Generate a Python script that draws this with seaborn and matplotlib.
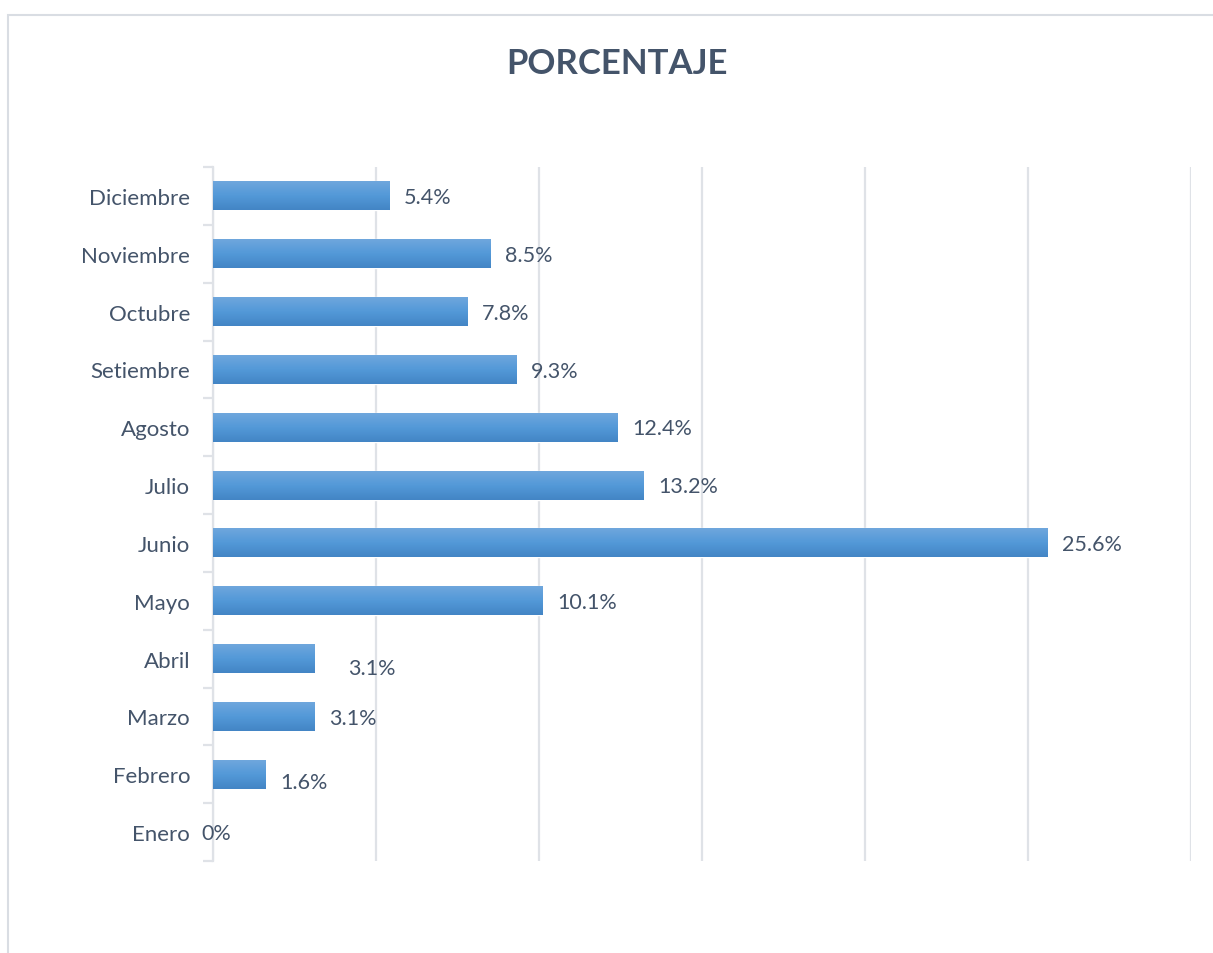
import numpy as np
import pandas as pd
import matplotlib
matplotlib.use("Agg")
import matplotlib.pyplot as plt
import seaborn as sns
from matplotlib.colors import LinearSegmentedColormap
from matplotlib.patches import Rectangle

months = ["Enero", "Febrero", "Marzo", "Abril", "Mayo", "Junio", "Julio",
          "Agosto", "Setiembre", "Octubre", "Noviembre", "Diciembre"]
values = [0, 1.6, 3.1, 3.1, 10.1, 25.6, 13.2, 12.4, 9.3, 7.8, 8.5, 5.4]
labels = ["0%", "1.6%", "3.1%", "3.1%", "10.1%", "25.6%", "13.2%",
          "12.4%", "9.3%", "7.8%", "8.5%", "5.4%"]
title = "PORCENTAJE"

df = pd.DataFrame({"mes": months, "pct": values, "lab": labels})
order = months[::-1]

sns.set_theme(style="white")
plt.rcParams["font.family"] = ["Lato", "DejaVu Sans"]

TEXT = "#44546a"
GRID = "#dfe2e7"

fig = plt.figure(figsize=(12.13, 9.54), dpi=100)
ax = fig.add_axes([213/1213, 1 - 862/954, (1191-213)/1213, (862-168)/954])

sns.barplot(data=df, y="mes", x="pct", order=order, orient="h",
            color="#5b9bd5", width=0.5, ax=ax, saturation=1)

ax.set_xlim(0, 30)
ax.set_ylim(len(order) - 0.5, -0.5)
xl, yl = ax.get_xlim(), ax.get_ylim()

# gradient fill on bars
cmap = LinearSegmentedColormap.from_list("g", ["#6fa7dd", "#5399d8", "#4385c5"])
grad = np.linspace(0, 1, 64).reshape(-1, 1)
for p in ax.patches:
    x0, y0 = p.get_x(), p.get_y()
    w, h = p.get_width(), p.get_height()
    if w <= 0:
        continue
    ax.imshow(grad, cmap=cmap, aspect="auto", extent=(x0, x0 + w, y0 + h, y0),
              origin="upper", zorder=3, interpolation="bicubic")
ax.set_xlim(*xl)
ax.set_ylim(*yl)

# value labels
label_dx = {"Enero": -0.82, "Abril": 0.6}
label_dy = {"Febrero": 0.12, "Abril": 0.14}
for m, v, lab in zip(months, values, labels):
    yi = order.index(m)
    ax.text(v + 0.45 + label_dx.get(m, 0), yi + 0.02 + label_dy.get(m, 0), lab,
            va="center", ha="left", fontsize=15.5, color=TEXT, zorder=4)

# grid and axes styling
ax.set_xticks(np.arange(0, 31, 5))
ax.xaxis.grid(True, color=GRID, linewidth=1.6)
ax.set_axisbelow(True)
ax.tick_params(axis="x", bottom=False, labelbottom=False)
ax.set_yticks(range(len(order)))
ax.set_yticklabels(order)
ax.set_yticks(np.arange(-0.5, len(order), 1), minor=True)
ax.tick_params(axis="y", which="major", left=False, labelsize=16,
               labelcolor=TEXT, pad=10.5)
ax.tick_params(axis="y", which="minor", left=True, length=7, width=1.6,
               color=GRID)
for s in ["top", "right", "bottom"]:
    ax.spines[s].set_visible(False)
ax.spines["left"].set_color(GRID)
ax.spines["left"].set_linewidth(1.6)
ax.set_xlabel("")
ax.set_ylabel("")

fig.text(617/1213, 1 - 64/954, title, ha="center", va="center",
         fontsize=25, fontweight="bold", color=TEXT)

fig.patches.append(Rectangle((8/1213, -0.1), 1.2, 1 - 16/954 + 0.1,
                             transform=fig.transFigure, fill=False,
                             edgecolor="#d9dde3", linewidth=1.5))

fig.savefig("out.png", dpi=100)
